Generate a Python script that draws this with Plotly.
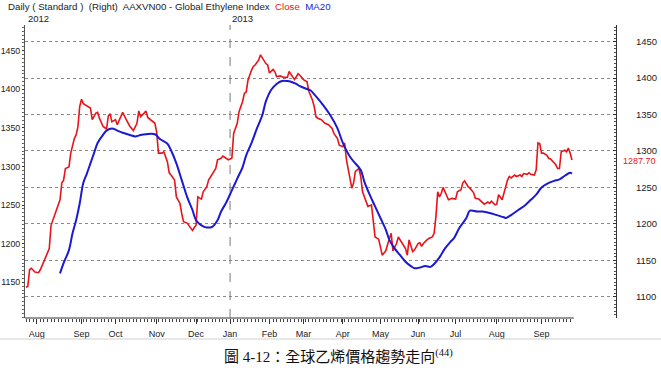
import plotly.graph_objects as go

# ---- data (trading-day index, value) ----
close_x = [0,1,2,3,5,7,8,10,12,13,14,15,17,19,20,21,22,24,25,26,27,28,29,30,31,32,34,36,37,39,40,41,43,45,46,47,48,50,51,53,54,56,58,60,62,63,64,66,67,68,70,72,73,74,76,77,79,80,81,83,84,86,87,88,90,91,93,94,95,96,98,99,101,102,104,106,107,109,110,112,113,115,116,118,119,121,122,123,124,126,127,128,130,131,133,134,135,136,138,139,140,142,144,146,147,149,150,152,153,155,157,158,160,161,162,163,165,167,169,171,172,174,175,177,178,179,181,182,183,184,186,187,188,190,191,193,194,195,197,198,199,200,201,203,204,205,207,208,210,212,213,214,216,217,219,220,221,222,224,225,227,228,229,230,231,232,233,235,236,238,240,241,243,244,245,247,248,250,251,253,255,256,258,259,260,262,263,264,266,267,268,269,270,271,273,274,276,277,278,280,281,282,284,285,286,287,288,289,291,292,293,295,296,297,298,299,301,302,303,304,305]
close_y = [1113,1114,1137,1139,1134,1133,1137,1148,1160,1166,1198,1205,1219,1233,1256,1260,1276,1278,1297,1306,1317,1322,1333,1361,1371,1365,1362,1359,1343,1352,1353,1345,1334,1330,1348,1351,1340,1343,1336,1349,1353,1343,1334,1328,1338,1355,1347,1352,1355,1346,1342,1338,1326,1297,1297,1299,1285,1270,1267,1260,1237,1228,1214,1203,1201,1198,1191,1195,1198,1237,1234,1244,1251,1260,1269,1276,1288,1290,1293,1290,1288,1290,1324,1338,1354,1368,1379,1381,1397,1411,1416,1418,1425,1432,1424,1420,1418,1407,1412,1409,1402,1403,1401,1401,1409,1402,1398,1406,1404,1398,1395,1382,1370,1361,1347,1345,1343,1338,1336,1331,1324,1317,1308,1306,1311,1288,1265,1249,1256,1272,1276,1265,1244,1230,1224,1226,1205,1182,1179,1166,1157,1160,1163,1180,1187,1163,1173,1182,1173,1166,1157,1178,1162,1164,1173,1174,1169,1173,1178,1180,1182,1187,1210,1244,1237,1242,1250,1238,1233,1235,1234,1244,1247,1256,1259,1251,1249,1243,1235,1234,1230,1227,1230,1228,1231,1226,1227,1240,1233,1242,1251,1260,1265,1263,1267,1265,1267,1265,1269,1268,1270,1268,1267,1274,1311,1310,1297,1297,1294,1290,1289,1284,1281,1276,1276,1299,1301,1299,1304,1297,1287.7]

ma20_x = [19,21,24,26,28,30,32,34,36,38,40,43,45,48,51,54,58,61,64,67,72,75,79,81,84,87,90,93,95,98,101,104,107,109,112,115,118,121,123,126,129,132,134,137,140,143,146,148,151,153,157,159,162,166,170,174,177,181,184,187,189,192,195,198,201,203,206,209,212,215,217,220,223,226,228,231,234,237,239,242,246,248,252,255,259,263,267,268,271,275,279,282,285,288,291,295,298,301,304,305]
ma20_y = [1132,1146,1164,1187,1205,1228,1256,1269,1283,1297,1311,1322,1328,1331,1328,1325,1322,1320,1322,1323,1323,1316,1310,1301,1283,1260,1237,1219,1205,1198,1195,1196,1205,1217,1230,1246,1262,1278,1294,1311,1331,1349,1368,1384,1392,1396,1396,1395,1392,1389,1385,1383,1375,1363,1349,1331,1311,1292,1283,1274,1258,1240,1224,1208,1192,1178,1166,1157,1148,1142,1139,1140,1142,1141,1145,1154,1166,1175,1180,1194,1208,1218,1217,1217,1215,1212,1209,1208,1212,1219,1226,1233,1240,1250,1255,1259,1261,1266,1270,1269]

month_ticks = [6, 31, 50, 73, 95, 114, 136, 155, 177, 198, 219, 240, 263, 288]
month_labels = ["Aug", "Sep", "Oct", "Nov", "Dec", "Jan", "Feb", "Mar", "Apr", "May", "Jun", "Jul", "Aug", "Sep"]
year_ticks = [0, 114]
year_labels = ["2012", "2013"]
right_ticks = [1100, 1150, 1200, 1250, 1300, 1350, 1400, 1450]
left_ticks = [1150, 1200, 1250, 1300, 1350, 1400, 1450]
last_close = 1287.70

FONT = "Liberation Sans, Arial, sans-serif"
TXT = "#222222"

fig = go.Figure()
fig.add_trace(go.Scatter(x=close_x, y=close_y, mode="lines",
                         line=dict(color="#e8141a", width=1.6), name="Close"))
fig.add_trace(go.Scatter(x=ma20_x, y=ma20_y, mode="lines",
                         line=dict(color="#1a1ad2", width=2, shape="spline"), name="MA20"))
# invisible trace to activate the left axis
fig.add_trace(go.Scatter(x=[0], y=[1300], yaxis="y2", mode="markers",
                         marker=dict(opacity=0), showlegend=False, hoverinfo="skip"))

x_end = max(close_x)
fig.update_layout(
    width=661, height=368,
    margin=dict(l=25, r=45, t=25, b=50, autoexpand=False),
    paper_bgcolor="white", plot_bgcolor="white",
    showlegend=False,
    font=dict(family=FONT, size=9, color=TXT),
    xaxis=dict(range=[-0.56, 329.6], tickmode="array", tickvals=month_ticks,
               ticktext=month_labels, ticks="outside", ticklen=5, tickcolor="#333",
               showgrid=False, zeroline=False, showline=False, automargin=False,
               ticklabelstandoff=2,
               tickfont=dict(size=9, color=TXT),
               minor=dict(tickmode="array", tickvals=list(range(0, x_end + 1, 2)),
                          ticks="outside", ticklen=3, tickcolor="#444", showgrid=False)),
    yaxis=dict(side="right", range=[1070.8, 1472.9], tickmode="array", tickvals=right_ticks,
               ticks="inside", ticklen=3, tickcolor="#333", showline=True, linecolor="#333",
               linewidth=1, showgrid=True, gridcolor="#8a8a8a", griddash="dot", gridwidth=1,
               zeroline=False, automargin=False, ticklabelstandoff=17,
               tickfont=dict(size=9.5, color=TXT),
               minor=dict(dtick=5, ticks="inside", ticklen=2, tickcolor="#555", showgrid=False)),
    yaxis2=dict(side="left", overlaying="y", range=[1103.8, 1483.3], tickmode="array",
                tickvals=left_ticks, ticks="outside", ticklen=2, tickcolor="#333",
                showline=True, linecolor="#555", linewidth=1, showgrid=False, zeroline=False,
                automargin=False, ticklabelstandoff=0, tickfont=dict(size=8.8, color=TXT),
                minor=dict(dtick=5, ticks="outside", ticklen=2, tickcolor="#666", showgrid=False)),
)

# bottom axis line (only under data span)
fig.add_shape(type="line", xref="x", yref="paper", x0=-0.56, x1=x_end + 1, y0=0, y1=0,
              line=dict(color="#333", width=1))
# year separator
fig.add_shape(type="line", xref="x", yref="paper", x0=year_ticks[1], x1=year_ticks[1], y0=0, y1=1,
              line=dict(color="#777", width=1, dash="dash"))
# image bottom border
fig.add_shape(type="line", xref="paper", yref="paper", x0=-25/591, x1=636/591,
              y0=-21/293, y1=-21/293, line=dict(color="#cfcfcf", width=1))

# header
fig.add_annotation(xref="paper", yref="paper", x=-19/591, y=1 + 18/293, xanchor="left", yanchor="middle",
                   showarrow=False, font=dict(size=9.7, color=TXT, family=FONT),
                   text="Daily ( Standard )  (Right)  AAXVN00 - Global Ethylene Index  "
                        "<span style='color:#e8141a'>Close</span>  <span style='color:#1a1ad2'>MA20</span>")
for xv, lab in zip(year_ticks, year_labels):
    fig.add_annotation(xref="x", yref="paper", x=xv, y=1 + 7/293, xanchor="left", yanchor="middle",
                       showarrow=False, text=lab, font=dict(size=9.5, color=TXT))
# last close label
fig.add_annotation(xref="paper", yref="y", x=1, y=last_close, xanchor="left", yanchor="middle",
                   xshift=5, yshift=-1.5, showarrow=False, text=f"{last_close:.2f}",
                   font=dict(size=9, color="#e8141a"))
# caption
fig.add_annotation(xref="paper", yref="paper", x=(338 - 25)/591, y=-(356 - 318)/293,
                   xanchor="center", yanchor="middle", showarrow=False,
                   text="圖 4-12：全球乙烯價格趨勢走向<sup>(44)</sup>",
                   font=dict(size=15, color="#111", family="Liberation Serif, Noto Sans CJK TC, serif"))

fig.write_html("out.html")
